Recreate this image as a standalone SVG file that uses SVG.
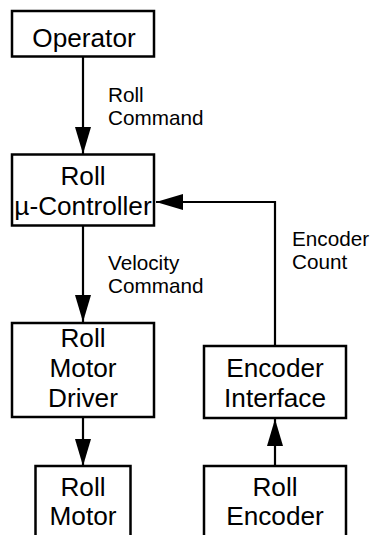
<svg xmlns="http://www.w3.org/2000/svg" width="373" height="535" viewBox="0 0 373 535">
  <style>
    .box { fill: #ffffff; stroke: #000000; stroke-width: 2.5; }
    .node-text { font-family: "Liberation Sans", Arial, sans-serif; font-size: 26.2px; fill: #000000; text-anchor: middle; }
    .label { font-family: "Liberation Sans", Arial, sans-serif; font-size: 20.7px; fill: #000000; }
    .wire { fill: none; stroke: #000000; stroke-width: 2.2; }
  </style>
  <defs>
    <marker id="arrow" markerUnits="userSpaceOnUse" viewBox="0 0 27 16" markerWidth="27" markerHeight="16" refX="27" refY="8" orient="auto">
      <path d="M0,0 L27,8 L0,16 z" fill="#000000"/>
    </marker>
  </defs>
  <rect width="373" height="535" fill="#ffffff"/>

  <!-- signal flow -->
  <g id="connectors">
    <path class="wire" d="M83,57 V154" marker-end="url(#arrow)"/>
    <path class="wire" d="M83,226 V322" marker-end="url(#arrow)"/>
    <path class="wire" d="M83,418 V466" marker-end="url(#arrow)"/>
    <path class="wire" d="M275,466 V419" marker-end="url(#arrow)"/>
    <path class="wire" d="M275,346 V202 H156" marker-end="url(#arrow)"/>
    <text class="label" x="108" y="102">Roll</text>
    <text class="label" x="108" y="125">Command</text>
    <text class="label" x="108" y="270">Velocity</text>
    <text class="label" x="108" y="293">Command</text>
    <text class="label" x="292" y="246">Encoder</text>
    <text class="label" x="292" y="269">Count</text>
  </g>

  <g id="operator">
    <rect class="box" x="12" y="11" width="142" height="45.5"/>
    <text class="node-text" x="84" y="46.5">Operator</text>
  </g>

  <g id="roll-controller">
    <rect class="box" x="12" y="154.5" width="142" height="71"/>
    <text class="node-text" x="83" y="185">Roll</text>
    <text class="node-text" x="83" y="215">µ-Controller</text>
  </g>

  <g id="roll-motor-driver">
    <rect class="box" x="12" y="323" width="142" height="94"/>
    <text class="node-text" x="83" y="347">Roll</text>
    <text class="node-text" x="83" y="377">Motor</text>
    <text class="node-text" x="83" y="407">Driver</text>
  </g>

  <g id="encoder-interface">
    <rect class="box" x="204" y="346" width="142" height="72"/>
    <text class="node-text" x="275" y="377">Encoder</text>
    <text class="node-text" x="275" y="407">Interface</text>
  </g>

  <g id="roll-motor">
    <rect class="box" x="35.5" y="466" width="95" height="90"/>
    <text class="node-text" x="83" y="496">Roll</text>
    <text class="node-text" x="83" y="525">Motor</text>
  </g>

  <g id="roll-encoder">
    <rect class="box" x="204" y="466" width="142" height="90"/>
    <text class="node-text" x="275" y="496">Roll</text>
    <text class="node-text" x="275" y="525">Encoder</text>
  </g>
</svg>
